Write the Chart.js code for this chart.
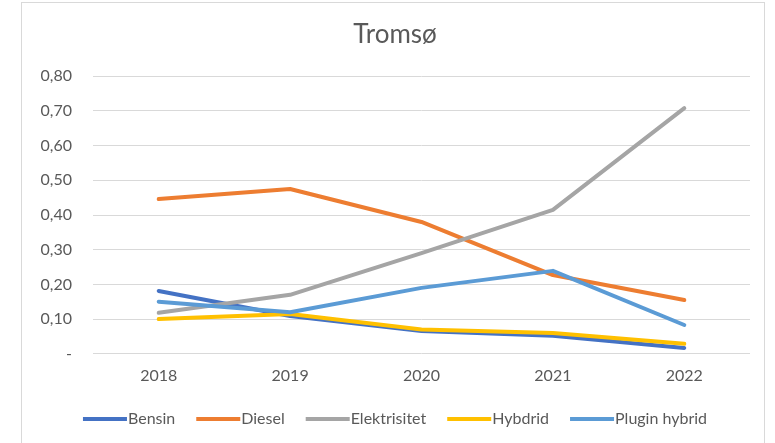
<!DOCTYPE html>
<html>
<head>
<meta charset="utf-8">
<script src="https://cdn.jsdelivr.net/npm/chart.js@4"></script>
<style>
  body { margin: 0; background: #fff; }
  #frame { position: absolute; left: 21px; top: 2px; width: 742px; height: 460px; border: 1px solid #d9d9d9; }
  #wrap { position: absolute; left: 0; top: 0; width: 775px; height: 443px; }
</style>
</head>
<body>
<div id="frame"></div>
<div id="wrap"><canvas id="myChart" width="775" height="443"></canvas></div>
<script>
const ctx = document.getElementById("myChart").getContext("2d");

const years = ['2018', '2019', '2020', '2021', '2022'];
const yTickLabels = ['-', '0,10', '0,20', '0,30', '0,40', '0,50', '0,60', '0,70', '0,80'];

const bensin = [0.181, 0.109, 0.066, 0.052, 0.017];
const diesel = [0.446, 0.475, 0.380, 0.227, 0.155];
const elektrisitet = [0.118, 0.170, 0.290, 0.415, 0.708];
const hybdrid = [0.100, 0.115, 0.070, 0.060, 0.029];
const pluginHybrid = [0.150, 0.120, 0.190, 0.239, 0.083];

const textColor = '#595959';
const font = 'Lato, "Open Sans", sans-serif';
const legendFontSize = 16;
const legendBox = 37;
const legendLineH = 4;

function line(label, values, color, i) {
    return {
        label: label,
        data: values,
        borderColor: color,
        backgroundColor: color,
        borderWidth: 4,
        borderCapStyle: 'round',
        borderJoinStyle: 'round',
        pointRadius: 0,
        tension: 0,
        order: 5 - i,
    };
}

const data = {
    labels: years,
    datasets: [
        line('Bensin', bensin, '#4472C4', 0),
        line('Diesel', diesel, '#ED7D31', 1),
        line('Elektrisitet', elektrisitet, '#A5A5A5', 2),
        line('Hybdrid', hybdrid, '#FFC000', 3),
        line('Plugin hybrid', pluginHybrid, '#5B9BD5', 4),
    ],
};

// Excel puts the legend line right against its text, so stretch the box into the gap
const legendLines = {
    id: 'legendLines',
    afterDraw(chart) {
        const legend = chart.legend;
        if (!legend || !legend.legendHitBoxes) return;
        const c = chart.ctx;
        legend.legendItems.forEach((item, i) => {
            const box = legend.legendHitBoxes[i];
            const top = box.top + Math.max((legendFontSize - legendLineH) / 2, 0);
            c.save();
            c.fillStyle = item.fillStyle;
            c.fillRect(box.left + legendBox - 1, top, 8, legendLineH);
            c.restore();
        });
    },
};

const config = {
    type: 'line',
    data: data,
    plugins: [legendLines],
    options: {
        responsive: false,
        animation: false,
        layout: { padding: { left: 21, right: 6, top: 0, bottom: 6 } },
        plugins: {
            title: {
                display: true,
                text: 'Tromsø',
                color: textColor,
                font: { family: font, size: 26, weight: 'normal' },
                padding: { top: 19, bottom: 26 },
            },
            legend: {
                position: 'bottom',
                labels: {
                    color: textColor,
                    font: { family: font, size: legendFontSize },
                    boxWidth: legendBox,
                    boxHeight: legendLineH,
                    padding: 21,
                    sort: (a, b) => a.datasetIndex - b.datasetIndex,
                    generateLabels: (chart) =>
                        Chart.defaults.plugins.legend.labels.generateLabels(chart)
                            .map((item) => Object.assign(item, { lineWidth: 0 })),
                },
            },
            tooltip: { enabled: false },
        },
        scales: {
            x: {
                offset: true,
                afterFit: (scale) => { scale.height = scale.height - 7; },
                grid: { display: false, drawTicks: false },
                border: { display: false },
                ticks: { color: textColor, font: { family: font, size: 16 }, padding: 12, maxRotation: 0 },
            },
            y: {
                min: 0,
                max: 0.8,
                afterFit: (scale) => { scale.width = 72; },
                grid: { color: '#d9d9d9', lineWidth: 1, drawTicks: false },
                border: { display: false },
                ticks: {
                    stepSize: 0.1,
                    color: textColor,
                    font: { family: font, size: 16 },
                    padding: 21,
                    callback: function (value, index) {
                        return yTickLabels[index];
                    },
                },
            },
            yRight: {
                position: 'right',
                display: true,
                afterFit: (scale) => { scale.width = 19; },
                grid: { display: false, drawTicks: false },
                border: { display: false },
                ticks: { display: false },
            },
        },
    },
};

const myChart = new Chart(ctx, config);
</script>
</body>
</html>
